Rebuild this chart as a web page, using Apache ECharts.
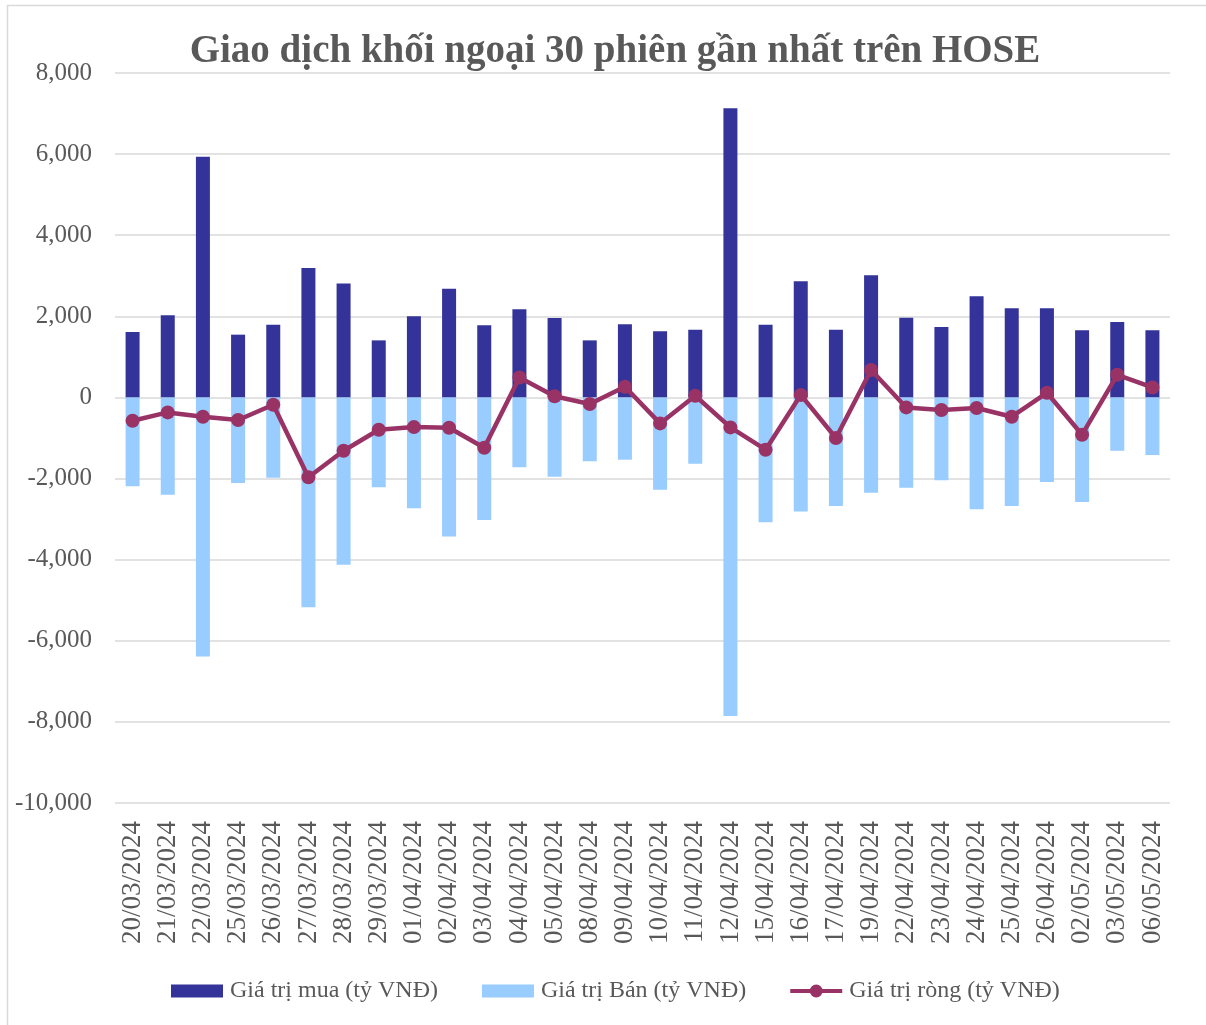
<!DOCTYPE html>
<html>
<head>
<meta charset="utf-8">
<script src="https://cdn.jsdelivr.net/npm/echarts@6/dist/echarts.min.js"></script>
<style>
  html, body { margin: 0; padding: 0; background: #fff; }
  #chart { width: 1206px; height: 1025px; }
</style>
</head>
<body>
<div id="chart"></div>
<script>
const dates = [
  "20/03/2024", "21/03/2024", "22/03/2024", "25/03/2024", "26/03/2024",
  "27/03/2024", "28/03/2024", "29/03/2024", "01/04/2024", "02/04/2024",
  "03/04/2024", "04/04/2024", "05/04/2024", "08/04/2024", "09/04/2024",
  "10/04/2024", "11/04/2024", "12/04/2024", "15/04/2024", "16/04/2024",
  "17/04/2024", "19/04/2024", "22/04/2024", "23/04/2024", "24/04/2024",
  "25/04/2024", "26/04/2024", "02/05/2024", "03/05/2024", "06/05/2024"
];
const buyValues = [
  1612, 2025, 5933, 1548, 1795, 3193, 2807, 1407, 2000, 2683,
  1778, 2173, 1958, 1407, 1802, 1630, 1671, 7128, 1795, 2864,
  1671, 3012, 1967, 1736, 2494, 2198, 2198, 1654, 1860, 1654
];
const sellValues = [
  -2192, -2397, -6387, -2108, -1978, -5172, -4128, -2217, -2734, -3431,
  -3020, -1724, -1953, -1576, -1535, -2273, -1635, -7857, -3079, -2815,
  -2675, -2347, -2224, -2042, -2759, -2675, -2086, -2579, -1315, -1421
];
const netValues = [
  -574, -369, -475, -557, -180, -1966, -1313, -796, -731, -747,
  -1239, 493, 30, -163, 264, -640, 42, -739, -1288, 62,
  -1000, 675, -246, -310, -261, -475, 115, -919, 559, 246
];

const GRAY_TEXT = "#595959";
const GRID_LINE = "#d9d9d9";
const BUY = "#333399";
const SELL = "#99ccff";
const NET = "#993366";
const SERIF = "'Liberation Serif', 'DejaVu Serif', serif";

// thick line with a dot in the middle, like the spreadsheet legend
const NET_ICON = "path://M0,4.5 L20,4.5 L20,8.5 L0,8.5 Z " +
  "M19.5,6.5 A6.5,6.5 0 1,1 32.5,6.5 A6.5,6.5 0 1,1 19.5,6.5 Z " +
  "M32,4.5 L52,4.5 L52,8.5 L32,8.5 Z";

const chart = echarts.init(document.getElementById("chart"));

chart.setOption({
  backgroundColor: "#fff",
  animation: false,
  graphic: [{
    type: "rect",
    shape: { x: 7.5, y: 5.5, width: 1210, height: 1030 },
    style: { fill: "none", stroke: GRID_LINE, lineWidth: 1.5 },
    silent: true
  }],
  title: {
    text: "Giao dịch khối ngoại 30 phiên gần nhất trên HOSE",
    left: 610,
    textAlign: "center",
    top: 27,
    textStyle: { fontFamily: SERIF, fontWeight: "bold", fontSize: 39, color: GRAY_TEXT }
  },
  legend: {
    bottom: 17,
    left: 166,
    itemWidth: 52,
    itemHeight: 13,
    itemGap: 44,
    textStyle: { fontFamily: SERIF, fontSize: 24, color: GRAY_TEXT, padding: [0, 0, 0, 2] },
    data: [
      { name: "Giá trị mua (tỷ VNĐ)", icon: "rect" },
      { name: "Giá trị Bán (tỷ VNĐ)", icon: "rect" },
      { name: "Giá trị ròng (tỷ VNĐ)", icon: NET_ICON, itemStyle: { color: NET } }
    ]
  },
  grid: { left: 115, right: 36, top: 73, bottom: 222, containLabel: false },
  xAxis: {
    type: "category",
    data: dates,
    axisLine: { show: false },
    axisTick: { show: false },
    axisLabel: {
      rotate: 90,
      interval: 0,
      margin: 18,
      fontFamily: SERIF,
      fontSize: 27,
      color: GRAY_TEXT
    }
  },
  yAxis: {
    type: "value",
    min: -10000,
    max: 8000,
    interval: 2000,
    axisLine: { show: false },
    axisTick: { show: false },
    axisLabel: {
      margin: 23,
      fontFamily: SERIF,
      fontSize: 25,
      color: GRAY_TEXT,
      formatter: (v) => v.toLocaleString("en-US")
    },
    splitLine: { lineStyle: { color: GRID_LINE, width: 1.5 } }
  },
  series: [
    {
      name: "Giá trị mua (tỷ VNĐ)",
      type: "bar",
      data: buyValues,
      barWidth: 14,
      barGap: "-100%",
      itemStyle: { color: BUY }
    },
    {
      name: "Giá trị Bán (tỷ VNĐ)",
      type: "bar",
      data: sellValues,
      barWidth: 14,
      barGap: "-100%",
      itemStyle: { color: SELL }
    },
    {
      name: "Giá trị ròng (tỷ VNĐ)",
      type: "line",
      data: netValues,
      symbol: "circle",
      symbolSize: 14,
      lineStyle: { color: NET, width: 4.5 },
      itemStyle: { color: NET },
      z: 5
    }
  ]
});
</script>
</body>
</html>
